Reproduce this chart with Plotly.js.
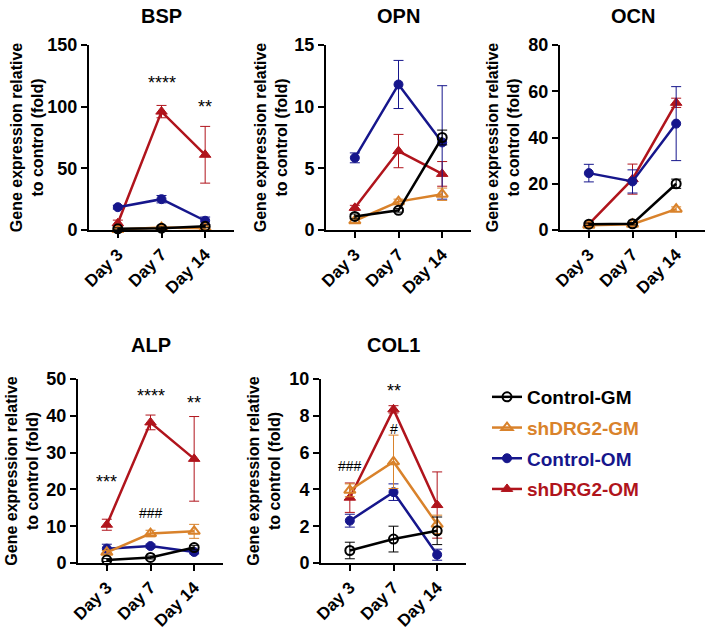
<!DOCTYPE html>
<html>
<head>
<meta charset="utf-8">
<script src="https://cdn.plot.ly/plotly-3.0.1.min.js"></script>
<style>
  html, body { margin: 0; padding: 0; background: #ffffff; }
  #chart { width: 709px; height: 632px; }
</style>
</head>
<body>
<div id="chart"></div>
<script>
// Time points on every x axis
const days = ['Day 3', 'Day 7', 'Day 14'];

// Genes, one panel each, with their y-axis extent and tick step
const genes = ['BSP', 'OPN', 'OCN', 'ALP', 'COL1'];
const yMax = [150, 15, 80, 50, 10];
const yStep = [50, 5, 20, 10, 2];

// Groups (legend order) and their colours
const groups = ['Control-GM', 'shDRG2-GM', 'Control-OM', 'shDRG2-OM'];
const groupColors = ['#000000', '#D9822B', '#16168C', '#B0141C'];

// Mean fold change per group: rows follow `groups`, columns follow `days`
const bspMean = [[1.0, 1.5, 3.0], [0.5, 2.0, 1.5], [18.5, 25.0, 7.5], [5.5, 96.0, 61.0]];
const bspErr  = [[0.8, 1.0, 1.2], [0.8, 1.5, 1.0], [1.5, 3.0, 3.0], [2.5, 5.0, 23.0]];

const opnMean = [[1.1, 1.6, 7.5], [0.75, 2.3, 2.9], [5.85, 11.8, 7.1], [1.8, 6.4, 4.55]];
const opnErr  = [[0.2, 0.15, 0.6], [0.15, 0.2, 0.5], [0.4, 1.95, 4.6], [0.2, 1.35, 1.0]];

const ocnMean = [[2.5, 2.7, 20.0], [2.0, 2.5, 9.0], [24.6, 21.0, 46.0], [2.5, 22.0, 55.0]];
const ocnErr  = [[0.5, 0.5, 2.0], [0.4, 0.5, 1.0], [3.8, 5.0, 16.0], [0.5, 6.5, 2.0]];

const alpMean = [[0.8, 1.5, 4.2], [2.9, 8.0, 8.6], [3.9, 4.6, 3.0], [10.4, 38.2, 28.3]];
const alpErr  = [[0.4, 0.4, 0.6], [0.5, 0.9, 1.9], [1.2, 0.5, 0.5], [1.5, 2.0, 11.5]];

const colMean = [[0.68, 1.3, 1.75], [3.95, 5.5, 2.1], [2.3, 3.85, 0.45], [3.55, 8.35, 3.15]];
const colErr  = [[0.45, 0.7, 0.75], [0.35, 1.45, 0.5], [0.35, 0.45, 0.3], [0.8, 0.2, 1.8]];

const means = [bspMean, opnMean, ocnMean, alpMean, colMean];
const errs = [bspErr, opnErr, ocnErr, alpErr, colErr];

// Significance labels per panel: [label, day index, height in axis units]
const bspSig = [['****', 1, 119], ['**', 2, 100]];
const opnSig = [];
const ocnSig = [];
const alpSig = [['***', 0, 22], ['****', 1, 45.5], ['**', 2, 43.5], ['###', 1, 13.7]];
const colSig = [['###', 0, 5.27], ['**', 1, 9.35], ['#', 1, 7.3]];
const sigs = [bspSig, opnSig, ocnSig, alpSig, colSig];

// ---- panel geometry (pixels within the 709 x 632 figure) ----
const W = 709, H = 632;
const panelX = [[89, 234], [326, 471], [560, 705], [78, 223], [321, 466]];
const panelY = [[45, 230], [45, 230], [45, 230], [379, 563], [379, 563]];
const headingY = [16, 16, 16, 345, 345];
const titleStandoff = [0, 3, 5, 4, 5];

const FONT = '"Liberation Sans", Arial, Helvetica, sans-serif';
const markerSymbols = ['circle-open', 'triangle-up-open', 'circle', 'triangle-up'];
const markerSizes = [9, 10, 9, 10];
const markerLines = [2, 2, 1, 1];

const traces = [];
// draw order: OM groups first so GM open markers sit on top
const drawOrder = [3, 2, 1, 0];
genes.forEach((gene, p) => {
  const sfx = p === 0 ? '' : String(p + 1);
  drawOrder.forEach(g => {
    traces.push({
      type: 'scatter',
      mode: 'lines+markers',
      x: days,
      y: means[p][g],
      xaxis: 'x' + sfx,
      yaxis: 'y' + sfx,
      name: '<span style="color:' + groupColors[g] + '">' + groups[g] + '</span>',
      legendgroup: groups[g],
      legendrank: g + 1,
      showlegend: p === 0,
      cliponaxis: false,
      line: { color: groupColors[g], width: 2.5 },
      marker: {
        symbol: markerSymbols[g],
        size: markerSizes[g],
        color: groupColors[g],
        line: { color: groupColors[g], width: markerLines[g] }
      },
      error_y: {
        type: 'data',
        array: errs[p][g],
        visible: true,
        color: groupColors[g],
        thickness: 1,
        width: 5
      },
      hoverinfo: 'skip'
    });
  });
});

const layout = {
  width: W,
  height: H,
  margin: { l: 0, r: 0, t: 0, b: 0 },
  paper_bgcolor: '#ffffff',
  plot_bgcolor: 'rgba(0,0,0,0)',
  font: { family: FONT, color: '#000000' },
  showlegend: true,
  legend: {
    x: 487 / W,
    y: 1 - 378 / H,
    xanchor: 'left',
    yanchor: 'top',
    bgcolor: 'rgba(0,0,0,0)',
    font: { family: FONT, size: 19, weight: 700 },
    tracegroupgap: 3,
    itemwidth: 30
  },
  annotations: [],
  hovermode: false
};

genes.forEach((gene, p) => {
  const sfx = p === 0 ? '' : String(p + 1);
  const axisStyle = {
    showline: true,
    linewidth: 2,
    linecolor: '#000000',
    ticks: 'outside',
    ticklen: 6,
    tickwidth: 2,
    tickcolor: '#000000',
    showgrid: false,
    zeroline: false,
    fixedrange: true
  };
  layout['xaxis' + sfx] = Object.assign({}, axisStyle, {
    type: 'category',
    categoryorder: 'array',
    categoryarray: days,
    range: [-0.66, 2.66],
    domain: [panelX[p][0] / W, panelX[p][1] / W],
    anchor: 'y' + sfx,
    tickangle: -45,
    tickfont: { family: FONT, size: 17, weight: 700, color: '#000000' }
  });
  layout['yaxis' + sfx] = Object.assign({}, axisStyle, {
    range: [0, yMax[p]],
    tick0: 0,
    dtick: yStep[p],
    domain: [1 - panelY[p][1] / H, 1 - panelY[p][0] / H],
    anchor: 'x' + sfx,
    automargin: false,
    tickfont: { family: FONT, size: 18, weight: 700, color: '#000000' },
    title: {
      text: 'Gene expression relative<br>to control (fold)',
      font: { family: FONT, size: 16, weight: 700, color: '#000000' },
      standoff: titleStandoff[p]
    }
  });
  // panel heading
  layout.annotations.push({
    text: gene,
    xref: 'x' + sfx + ' domain',
    yref: 'paper',
    x: 0.5,
    y: 1 - headingY[p] / H,
    xanchor: 'center',
    yanchor: 'middle',
    showarrow: false,
    font: { family: FONT, size: 20, weight: 700, color: '#000000' }
  });
  // significance marks
  sigs[p].forEach(s => {
    const isStar = s[0].charAt(0) === '*';
    layout.annotations.push({
      text: s[0],
      xref: 'x' + sfx,
      yref: 'y' + sfx,
      x: days[s[1]],
      y: s[2],
      xanchor: 'center',
      yanchor: 'middle',
      showarrow: false,
      font: { family: FONT, size: isStar ? 18 : 14, color: '#000000' }
    });
  });
});

Plotly.newPlot('chart', traces, layout, { displayModeBar: false, staticPlot: true });
</script>
</body>
</html>
